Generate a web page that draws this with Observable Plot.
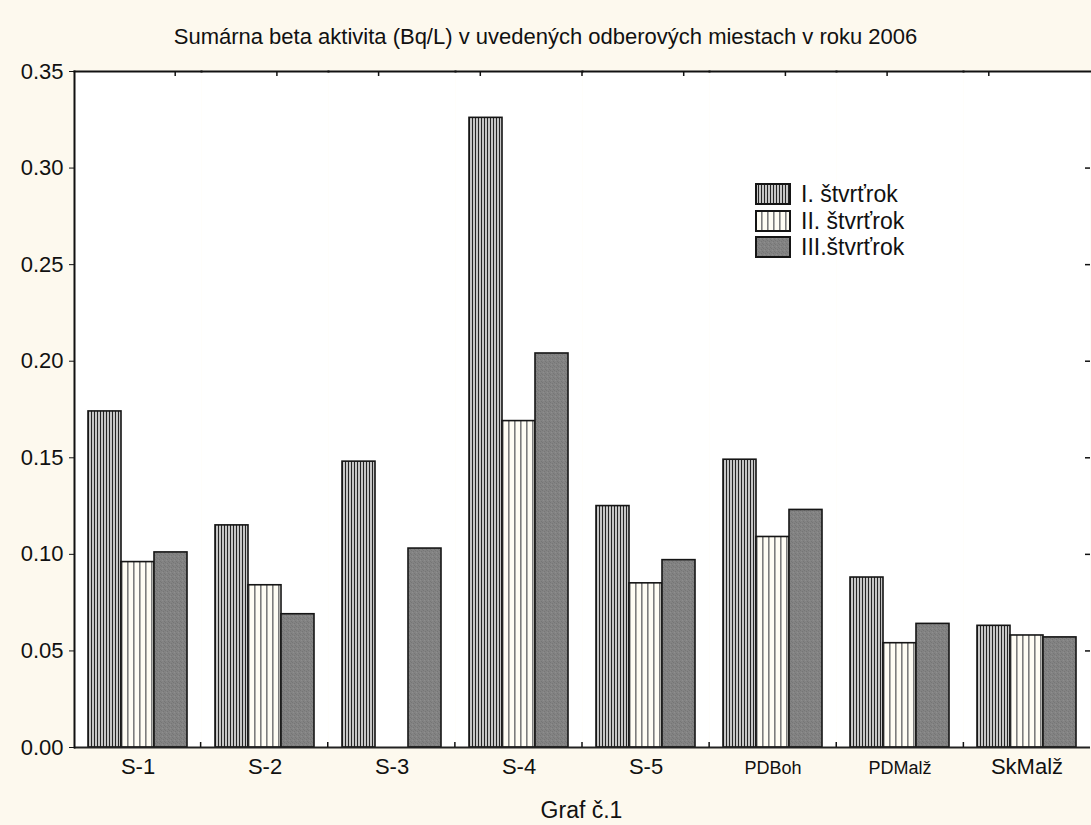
<!DOCTYPE html>
<html>
<head>
<meta charset="utf-8">
<script src="https://cdn.jsdelivr.net/npm/d3@7"></script>
<script src="https://cdn.jsdelivr.net/npm/@observablehq/plot@0.6"></script>
<style>
  html, body { margin: 0; padding: 0; }
  body { background: #fdf9ee; width: 1091px; height: 825px; overflow: hidden; position: relative;
         font-family: "Liberation Sans", Arial, sans-serif; color: #111; }
  #title { box-sizing: border-box; height: 50px; padding-top: 24px; line-height: 26px; font-size: 22px; text-align: center; white-space: nowrap; }
  #chart { position: relative; width: 1091px; height: 745px; }
  #chart svg { display: block; position: absolute; left: 0; top: 0; }
  #chart svg.overlay { pointer-events: none; }
  #caption { box-sizing: border-box; height: 30px; margin-left: 73px; width: 1017px; padding-top: 2px; line-height: 26px; font-size: 23px; text-align: center; }
  #legend { position: absolute; left: 755px; top: 181px; }
  .row { display: flex; align-items: center; height: 26.5px; }
  .row svg { display: block; margin-right: 10px; }
  .row span { font-size: 23px; line-height: 26px; }
</style>
</head>
<body>
<div id="title">Sumárna beta aktivita (Bq/L) v uvedených odberových miestach v roku 2006</div>
<div id="chart"></div>
<div id="caption">Graf č.1</div>
<div id="legend"></div>
<script>
// ---- data ----
const categories = ["S-1", "S-2", "S-3", "S-4", "S-5", "PDBoh", "PDMalž", "SkMalž"];
const quarters = ["I. štvrťrok", "II. štvrťrok", "III.štvrťrok"];
const q1Values = [0.174, 0.115, 0.148, 0.326, 0.125, 0.149, 0.088, 0.063];
const q2Values = [0.096, 0.084, null, 0.169, 0.085, 0.109, 0.054, 0.058];
const q3Values = [0.101, 0.069, 0.103, 0.204, 0.097, 0.123, 0.064, 0.057];
const yTicks = [0, 0.05, 0.10, 0.15, 0.20, 0.25, 0.30, 0.35];
const topDivisions = 10;

// ---- table ----
const series = [q1Values, q2Values, q3Values];
const rows = [];
categories.forEach((c, i) => {
  quarters.forEach((q, j) => {
    const v = series[j][i];
    if (v != null) rows.push({cat: c, q, v});
  });
});
const patternIds = ["url(#pI)", "url(#pII)", "url(#pIII)"];
const smallLabels = new Set(["PDBoh", "PDMalž"]);

const dims = { width: 1091, height: 745, marginLeft: 73, marginRight: 1, marginTop: 21, marginBottom: 48 };
const innerHeight = dims.height - dims.marginTop - dims.marginBottom;
const innerWidth = dims.width - dims.marginLeft - dims.marginRight;
const tickLen = 5;
const yDomain = [0, 0.35];

const chart = Plot.plot({
  ...dims,
  style: { background: "transparent", fontFamily: "'Liberation Sans', Arial, sans-serif", color: "#111" },
  fx: { domain: categories, paddingInner: 0, paddingOuter: 0, axis: null, label: null },
  x: { domain: quarters, paddingInner: 0, paddingOuter: 0.37, axis: null },
  y: { domain: yDomain, axis: null },
  color: { domain: quarters, range: patternIds, type: "ordinal" },
  marks: [
    Plot.frame({ fill: "white", stroke: null }),
    Plot.barY(rows, { fx: "cat", x: "q", y: "v", fill: "q", stroke: "#151515", strokeWidth: 1.6 }),
    Plot.ruleY([0], { stroke: "#222", strokeWidth: 2 }),
    Plot.frame({ anchor: "top", stroke: "#111", strokeWidth: 2 }),
    Plot.frame({ anchor: "left", facetAnchor: "left", stroke: "#111", strokeWidth: 2 }),
    Plot.axisY(yTicks, { anchor: "left", tickSize: 5, tickPadding: 6, tickFormat: d3.format(".2f"),
                         fontSize: 22, label: null, stroke: "#111", fill: "#111" }),
    Plot.text(categories, { fx: d => d, text: d => d, frameAnchor: "bottom", dy: 26,
                            fontSize: d => smallLabels.has(d) ? 18 : 22, fill: "#111" })
  ]
});

// overlay: inward ticks on the bottom (between categories), top (divisions) and right (y ticks)
const bottomTicks = d3.range(1, categories.length).map(i => i / categories.length);
const topTicks = d3.range(1, topDivisions).map(i => i / topDivisions);
const overlay = Plot.plot({
  ...dims,
  className: "overlay",
  style: { background: "transparent", overflow: "visible", pointerEvents: "none" },
  x: { domain: [0, 1], axis: null },
  y: { domain: yDomain, axis: null },
  marks: [
    Plot.ruleX(bottomTicks, { x: d => d, insetTop: innerHeight - tickLen, stroke: "#111", strokeWidth: 1.5 }),
    Plot.ruleX(topTicks, { x: d => d, insetBottom: innerHeight - tickLen, stroke: "#111", strokeWidth: 1.5 }),
    Plot.ruleY(yTicks.slice(1, -1), { y: d => d, insetLeft: innerWidth - tickLen, stroke: "#111", strokeWidth: 1.5 })
  ]
});
overlay.classList.add("overlay");

// patterns
const svg = d3.select(chart);
const defs = svg.insert("defs", ":first-child");
function addPattern(id, w, h, bg, parts) {
  const p = defs.append("pattern").attr("id", id).attr("width", w).attr("height", h).attr("patternUnits", "userSpaceOnUse");
  p.append("rect").attr("width", w).attr("height", h).attr("fill", bg);
  parts.forEach(r => p.append("rect").attr("x", r[0]).attr("y", r[1]).attr("width", r[2]).attr("height", r[3]).attr("fill", r[4]));
}
addPattern("pI", 3, 4, "#c6c6c6", [[0, 0, 1, 4, "#252525"]]);
addPattern("pII", 6, 4, "#fffdf4", [[0, 0, 1.6, 4, "#7d7d7d"]]);
addPattern("pIII", 4, 4, "#838383", [[0, 0, 1, 1, "#767676"], [2, 1, 1, 1, "#767676"], [1, 2, 1, 1, "#8e8e8e"], [3, 3, 1, 1, "#767676"]]);

document.getElementById("chart").appendChild(chart);
document.getElementById("chart").appendChild(overlay);

// legend
const legend = d3.select("#legend");
quarters.forEach((q, i) => {
  const row = legend.append("div").attr("class", "row");
  const s = row.append("svg").attr("width", 36).attr("height", 22);
  s.append("rect").attr("x", 1).attr("y", 1).attr("width", 34).attr("height", 20)
    .attr("fill", patternIds[i]).attr("stroke", "#151515").attr("stroke-width", 2);
  row.append("span").text(q);
});
</script>
</body>
</html>
